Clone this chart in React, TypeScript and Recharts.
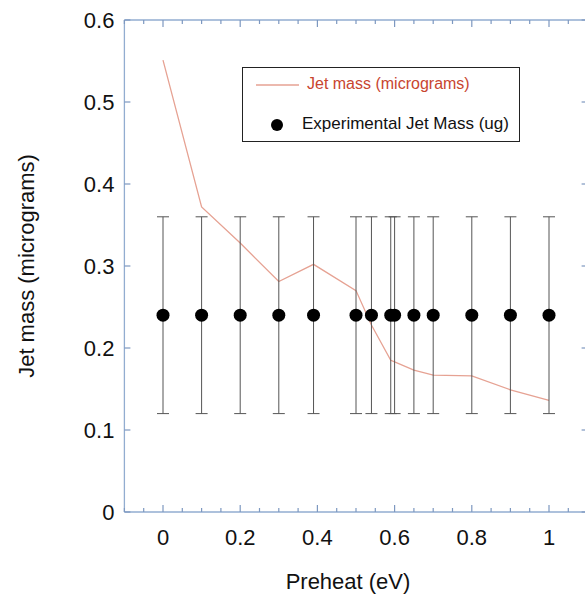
import React from 'react';
import { ComposedChart, Line, Scatter, ErrorBar, XAxis, YAxis, Legend } from 'recharts';

const preheat = [0, 0.1, 0.2, 0.3, 0.39, 0.5, 0.54, 0.59, 0.6, 0.65, 0.7, 0.8, 0.9, 1];
const jetMass = [0.551, 0.372, 0.328, 0.281, 0.302, 0.27, 0.228, 0.185, 0.183, 0.173, 0.167, 0.166, 0.149, 0.136];
const expMass = [0.24, 0.24, 0.24, 0.24, 0.24, 0.24, 0.24, 0.24, 0.24, 0.24, 0.24, 0.24, 0.24, 0.24];
const expErr = [0.12, 0.12, 0.12, 0.12, 0.12, 0.12, 0.12, 0.12, 0.12, 0.12, 0.12, 0.12, 0.12, 0.12];

const xTicks = [-0.1, -0.05, 0, 0.05, 0.1, 0.15, 0.2, 0.25, 0.3, 0.35, 0.4, 0.45, 0.5, 0.55, 0.6, 0.65, 0.7, 0.75, 0.8, 0.85, 0.9, 0.95, 1, 1.05, 1.1];
const xLabelTicks = [0, 0.2, 0.4, 0.6, 0.8, 1];
const yTicks = [0, 0.1, 0.2, 0.3, 0.4, 0.5, 0.6];

const data = preheat.map((x, i) => ({ x, mass: jetMass[i], exp: expMass[i], err: expErr[i] }));

const AXIS = '#92add0';
const TICK = '#7d98c0';
const FONT = '"Liberation Sans", Arial, sans-serif';
const LINE_COLOR = '#e6a293';
const LEGEND_RED = '#c8452f';

const isMajor = (v: number) => xLabelTicks.some((t) => Math.abs(t - v) < 1e-9);

const BottomTick = (props: any) => {
  const { x, y, payload } = props;
  const v = payload.value;
  const major = isMajor(v);
  return (
    <g>
      <line x1={x} x2={x} y1={y} y2={y - (major ? 7 : 4)} stroke={TICK} strokeWidth={1.2} />
      {major && (
        <text x={x} y={y + 33} textAnchor="middle" fontSize={22} fontFamily={FONT} fill="#111">
          {String(v)}
        </text>
      )}
    </g>
  );
};

const TopTick = (props: any) => {
  const { x, y, payload } = props;
  const major = isMajor(payload.value);
  return <line x1={x} x2={x} y1={y} y2={y + (major ? 7 : 4)} stroke={TICK} strokeWidth={1.2} />;
};

const LeftTick = (props: any) => {
  const { x, y, payload } = props;
  return (
    <g>
      <line x1={x} x2={x + 6} y1={y} y2={y} stroke={TICK} strokeWidth={1.2} />
      <text x={x - 10} y={y} dy="0.36em" textAnchor="end" fontSize={22} fontFamily={FONT} fill="#111">
        {String(payload.value)}
      </text>
    </g>
  );
};

const RightTick = (props: any) => {
  const { x, y } = props;
  return <line x1={x} x2={x - 6} y1={y} y2={y} stroke={TICK} strokeWidth={1.2} />;
};

const LegendBox = () => (
  <div
    style={{
      width: 278,
      height: 75,
      boxSizing: 'border-box',
      border: '1.5px solid #222',
      background: '#fff',
      position: 'relative',
      fontFamily: FONT,
    }}
  >
    <svg width={60} height={72} style={{ position: 'absolute', left: 0, top: 0 }}>
      <line x1={13} x2={56} y1={17} y2={17} stroke={LINE_COLOR} strokeWidth={1.3} />
      <circle cx={34} cy={57} r={6} fill="#000" />
    </svg>
    <div style={{ position: 'absolute', left: 64, top: 7, fontSize: 16, color: LEGEND_RED, whiteSpace: 'nowrap' }}>
      Jet mass (micrograms)
    </div>
    <div style={{ position: 'absolute', left: 59, top: 46, fontSize: 17, color: '#111', whiteSpace: 'nowrap' }}>
      Experimental Jet Mass (ug)
    </div>
  </div>
);

const Dot = (props: any) => <circle cx={props.cx} cy={props.cy} r={6.5} fill="#000" />;

export default function App() {
  return (
    <div style={{ position: 'fixed', left: 0, top: 0, width: 585, height: 605, overflow: 'hidden', background: '#fff' }}>
      <ComposedChart width={600} height={605} data={data} margin={{ top: 0, right: 0, bottom: 0, left: 0 }}>
        <XAxis
          dataKey="x"
          type="number"
          domain={[-0.1, 1.1]}
          allowDataOverflow
          ticks={xTicks}
          interval={0}
          tickSize={0}
          tickMargin={0}
          tickLine={false}
          tick={<BottomTick />}
          axisLine={{ stroke: AXIS, strokeWidth: 1.3 }}
          height={93}
          label={{
            value: 'Preheat (eV)',
            position: 'insideBottom',
            offset: 16,
            dx: -8,
            style: { fontSize: 22, fontFamily: FONT, fill: '#111' },
          }}
        />
        <XAxis
          xAxisId="top"
          dataKey="x"
          orientation="top"
          type="number"
          domain={[-0.1, 1.1]}
          allowDataOverflow
          ticks={xTicks}
          interval={0}
          tickSize={0}
          tickMargin={0}
          tickLine={false}
          tick={<TopTick />}
          axisLine={{ stroke: AXIS, strokeWidth: 1.3 }}
          height={20}
        />
        <YAxis
          type="number"
          domain={[0, 0.6]}
          allowDataOverflow
          ticks={yTicks}
          interval={0}
          tickSize={0}
          tickMargin={0}
          tickLine={false}
          tick={<LeftTick />}
          axisLine={{ stroke: AXIS, strokeWidth: 1.3 }}
          width={124.4}
          label={{
            value: 'Jet mass (micrograms)',
            angle: -90,
            position: 'insideLeft',
            offset: 26,
            style: { fontSize: 22, fontFamily: FONT, fill: '#111', textAnchor: 'middle' },
          }}
        />
        <YAxis
          yAxisId="right"
          orientation="right"
          type="number"
          domain={[0, 0.6]}
          allowDataOverflow
          ticks={yTicks}
          interval={0}
          tickSize={0}
          tickMargin={0}
          tickLine={false}
          tick={<RightTick />}
          axisLine={{ stroke: AXIS, strokeWidth: 1.3 }}
          width={12.4}
        />
        <Line
          type="linear"
          dataKey="mass"
          stroke={LINE_COLOR}
          strokeWidth={1.3}
          dot={false}
          isAnimationActive={false}
          legendType="line"
          name="Jet mass (micrograms)"
        />
        <Scatter dataKey="exp" shape={<Dot />} isAnimationActive={false} name="Experimental Jet Mass (ug)">
          <ErrorBar dataKey="err" direction="y" width={6} stroke="#555" strokeWidth={1} isAnimationActive={false} />
        </Scatter>
        <Legend
          layout="vertical"
          align="center"
          verticalAlign="middle"
          content={<LegendBox />}
          wrapperStyle={{ left: 242, top: 67, width: 278, height: 75 }}
        />
      </ComposedChart>
    </div>
  );
}
